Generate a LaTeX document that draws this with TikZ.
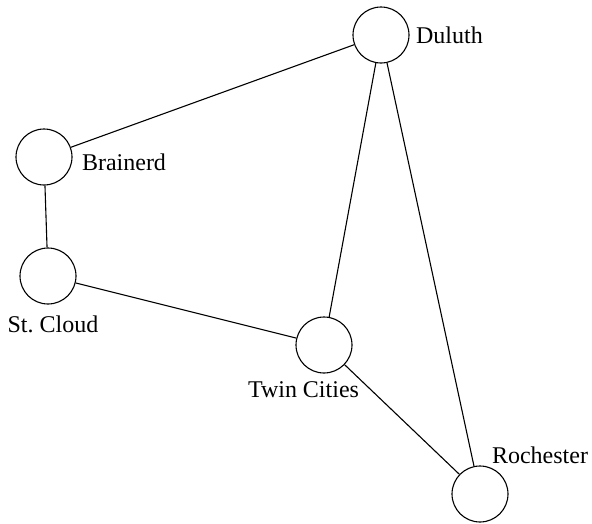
\documentclass[tikz,border=0pt]{standalone}
\usepackage{fontspec}
\setmainfont{Liberation Serif}
\frenchspacing
\begin{document}
\begin{tikzpicture}[x=1pt,y=-1pt,
  city/.style={circle,draw,line width=1.1pt,minimum size=56pt,inner sep=0pt},
  lbl/.style={anchor=base,inner sep=0pt,font=\fontsize{24}{28}\selectfont},
  edge/.style={line width=1.1pt}]
\useasboundingbox (0,0) rectangle (592,523);
\node[city] (du) at (381,35) {};
\node[city] (br) at (44,157) {};
\node[city] (sc) at (48,276) {};
\node[city] (tc) at (324,345) {};
\node[city] (ro) at (480,494) {};
\node[lbl] (ldu) at (449.5,43) {Duluth};
\node[lbl] (lbr) at (124,170) {Brainerd};
\node[lbl] (lsc) at (53,332) {St.\ Cloud};
\node[lbl] (ltc) at (303.5,397) {Twin Cities};
\node[lbl] (lro) at (540,463) {Rochester};
\draw[edge] (du) -- (br);
\draw[edge] (br) -- (sc);
\draw[edge] (sc) -- (tc);
\draw[edge] (tc) -- (du);
\draw[edge] (du) -- (ro);
\draw[edge] (tc) -- (ro);
\end{tikzpicture}
\end{document}
